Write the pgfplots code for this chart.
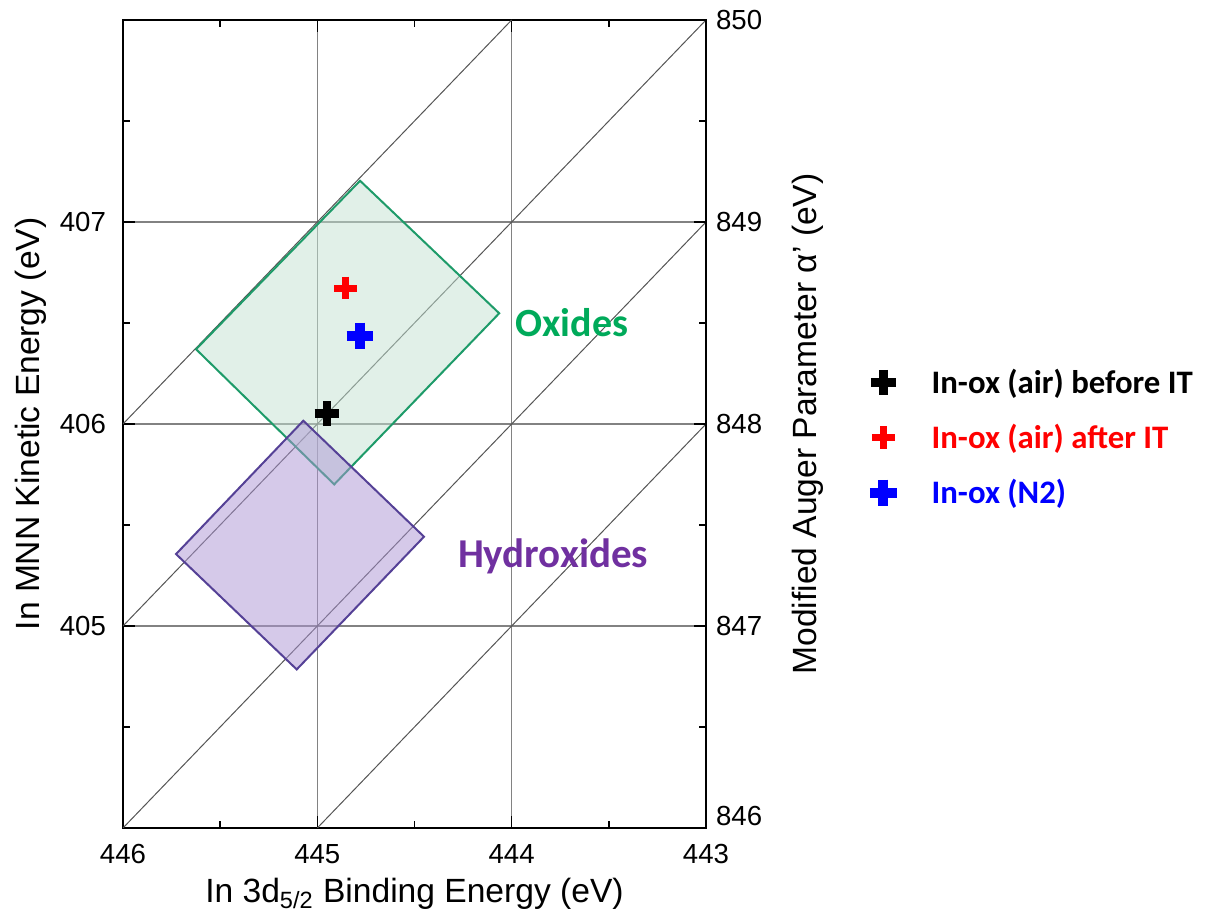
\documentclass[border=0pt]{standalone}
\usepackage{pgfplots}
\pgfplotsset{compat=1.18}
\usepackage{fontspec}
\setmainfont{Liberation Sans}
\newfontfamily\calfont{Carlito}

\definecolor{oxedge}{RGB}{30,155,105}
\definecolor{oxfill}{RGB}{195,226,210}
\definecolor{oxtext}{RGB}{0,170,90}
\definecolor{hyedge}{RGB}{85,65,150}
\definecolor{hyfill}{RGB}{172,148,212}
\definecolor{hytext}{RGB}{112,48,160}
\definecolor{gridgray}{RGB}{130,130,130}
\definecolor{alphagray}{RGB}{85,85,85}

\begin{document}
\begin{tikzpicture}
% fixed frame for the whole figure
\path[use as bounding box] (-61.5pt,-48pt) rectangle (551pt,414pt);

\begin{axis}[
  at={(0,0)}, anchor=south west,
  width=291.5pt, height=404pt, scale only axis,
  xmin=443, xmax=446, ymin=404, ymax=408, x dir=reverse,
  xtick={443,444,445,446}, minor xtick={443.5,444.5,445.5},
  ytick={405,406,407}, minor ytick={404.5,405.5,406.5,407.5},
  xtick pos=both, xticklabel pos=lower, ytick pos=left,
  tick align=inside,
  major tick length=6pt, minor tick length=3.5pt,
  every tick/.style={black, line width=0.8pt},
  grid=major, major grid style={gridgray, line width=0.6pt},
  axis line style={line width=1pt},
  tick label style={font=\fontsize{13.8}{15}\selectfont},
  xticklabel style={yshift=-4.5pt},
  yticklabel style={xshift=-5pt},
  /pgf/number format/assume math mode=true,
  xlabel={In 3d\textsubscript{5/2} Binding Energy (eV)},
  ylabel={In MNN Kinetic Energy (eV)},
  label style={font=\fontsize{16.8}{20}\selectfont},
  xlabel style={at={(axis description cs:0.5,-0.082)}, anchor=center},
  ylabel style={at={(axis description cs:-0.158,0.5)}, anchor=center},
  legend style={
    at={(axis description cs:1.27,0.483)}, anchor=west,
    draw=none, fill=none,
    font=\calfont\bfseries\fontsize{16.4}{19}\selectfont,
    row sep=10pt, column sep=15.5pt,
    nodes={inner sep=2pt}},
  legend cell align=left,
]

% lines of constant modified Auger parameter
\addplot[alphagray, line width=0.5pt, forget plot] coordinates {(446,404) (443,407)};
\addplot[alphagray, line width=0.5pt, forget plot] coordinates {(445,404) (443,406)};
\addplot[alphagray, line width=0.5pt, forget plot] coordinates {(446,405) (443,408)};
\addplot[alphagray, line width=0.5pt, forget plot] coordinates {(446,406) (444,408)};

% oxide region
\addplot[draw=oxedge, line width=1pt, fill=oxfill, fill opacity=0.5, forget plot]
  coordinates {(445.624,406.370) (444.780,407.204) (444.064,406.548) (444.913,405.701)} -- cycle;

% hydroxide region
\addplot[draw=hyedge, line width=1pt, fill=hyfill, fill opacity=0.5, forget plot]
  coordinates {(445.727,405.356) (445.072,406.016) (444.451,405.442) (445.106,404.785)} -- cycle;

\node[font=\calfont\bfseries\fontsize{20}{24}\selectfont, text=oxtext] at (axis cs:443.69,406.50) {Oxides};
\node[font=\calfont\bfseries\fontsize{20.5}{24}\selectfont, text=hytext] at (axis cs:443.787,405.347) {Hydroxides};

% measured samples
\addplot[only marks, black, mark=+, mark size=6.2pt, mark options={line width=4.4pt}]
  coordinates {(444.95,406.05)};
\addlegendentry{In-ox (air) before IT}
\addplot[only marks, red, mark=+, mark size=5.7pt, mark options={line width=3.5pt}]
  coordinates {(444.853,406.673)};
\addlegendentry{\textcolor{red}{In-ox (air) after IT}}
\addplot[only marks, blue, mark=+, mark size=6.7pt, mark options={line width=4.8pt}]
  coordinates {(444.78,406.436)};
\addlegendentry{\textcolor{blue}{In-ox (N2)}}
\end{axis}

% modified Auger parameter scale
\begin{axis}[
  at={(0,0)}, anchor=south west,
  width=291.5pt, height=404pt, scale only axis,
  xmin=443, xmax=446, x dir=reverse,
  ymin=846, ymax=850,
  axis x line=none, axis y line*=right,
  ytick={847,848,849,850}, minor ytick={846.5,847.5,848.5,849.5},
  extra y ticks={846}, extra y tick style={yticklabel style={yshift=6pt}},
  tick align=inside,
  major tick length=6pt, minor tick length=3.5pt,
  every tick/.style={black, line width=0.8pt},
  axis line style={line width=1pt},
  tick label style={font=\fontsize{13.8}{15}\selectfont},
  yticklabel style={xshift=1.5pt},
  /pgf/number format/assume math mode=true,
  ylabel={Modified Auger Parameter α' (eV)},
  label style={font=\fontsize{16.8}{20}\selectfont},
  ylabel style={at={(axis description cs:1.175,0.5)}, anchor=center, rotate=0},
]
\end{axis}
\end{tikzpicture}
\end{document}
